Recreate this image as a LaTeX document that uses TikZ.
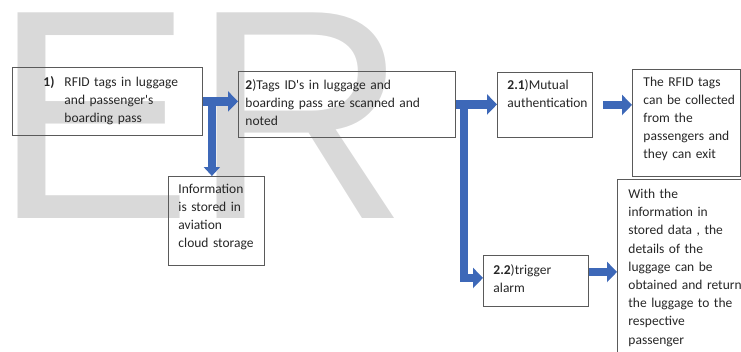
\documentclass[tikz,border=0pt]{standalone}
\usepackage{fontspec}
\setmainfont{Carlito}
\newfontfamily\markfont{Liberation Sans}
\usetikzlibrary{arrows.meta}
\definecolor{flowblue}{RGB}{61,104,184}
\definecolor{boxline}{RGB}{90,90,90}
\newcommand{\boxlines}[1]{\begin{tabular}[t]{@{}l@{}}#1\end{tabular}}

\begin{document}
\begin{tikzpicture}[x=1pt,y=-1pt,
	stepbox/.style={draw=boxline,line width=0.9pt,anchor=north west,inner ysep=0pt,align=left,text=black!85,font=\fontsize{13.5}{18}\selectfont},
	flow/.style={draw=flowblue,line width=8.5pt,-{Triangle[length=10pt,width=20pt]}}]
	\useasboundingbox (0,0) rectangle (741,351);
	% big grey letters behind the chart
	\node[anchor=base west,inner sep=0pt,text=black!15,font=\markfont\fontsize{299}{299}\selectfont] (mark) at (-7,218) {ER};
	% the boxes
	\node[stepbox,inner xsep=31pt,text width=128pt,text height=19pt,text depth=49pt] (step1) at (12,67)
		{\boxlines{\textbf{1)}\hspace{10pt}RFID tags in luggage\\\hspace*{21pt}and passenger\textquotesingle s\\\hspace*{21pt}boarding pass}};
	\node[stepbox,inner xsep=7pt,text width=203pt,text height=18pt,text depth=48pt] (step2) at (238,71)
		{\boxlines{\textbf{2})Tags ID\textquotesingle s in luggage and\\boarding pass are scanned and\\noted}};
	\node[stepbox,inner xsep=10pt,text width=76pt,text height=17pt,text depth=72pt] (info) at (168,176)
		{\boxlines{Information\\is stored in\\aviation\\cloud storage}};
	\node[stepbox,inner xsep=10pt,text width=75pt,text height=17.5pt,text depth=47.5pt] (auth) at (497,72)
		{\boxlines{\textbf{2.1})Mutual\\authentication}};
	\node[stepbox,inner xsep=11pt,text width=86pt,text height=17pt,text depth=90pt] (collect) at (632,69)
		{\boxlines{The RFID tags\\can be collected\\from the\\passengers and\\they can exit}};
	\node[stepbox,inner xsep=10pt,text width=85pt,text height=19pt,text depth=32pt] (alarm) at (483,255)
		{\boxlines{\textbf{2.2})trigger\\alarm}};
	\node[stepbox,inner xsep=11pt,text width=108pt,text height=19pt,text depth=162pt,font=\fontsize{13.5}{18.2}\selectfont] (recover) at (617,179)
		{\boxlines{With the\\information in\\stored data , the\\details of the\\luggage can be\\obtained and return\\the luggage to the\\respective\\passenger}};
	% arrows
	\coordinate (split1) at ([xshift=9pt]step1.east);
	\coordinate (split2) at ([xshift=8pt]step2.east);
	\draw[flow] (step1.east) -- (step1.east -| step2.west);
	\draw[flow,-{Triangle[length=9pt,width=16pt]}] (split1) -- (split1 |- info.north);
	\draw[flow] (step2.east) -- (step2.east -| auth.west);
	\draw[flow] (split2) |- ([yshift=3pt]alarm.west);
	\draw[flow] ([xshift=10pt]auth.east) -- (auth.east -| collect.west);
	\draw[flow] ([yshift=9pt]alarm.east) -- ([yshift=9pt]alarm.east -| recover.west);
\end{tikzpicture}
\end{document}
